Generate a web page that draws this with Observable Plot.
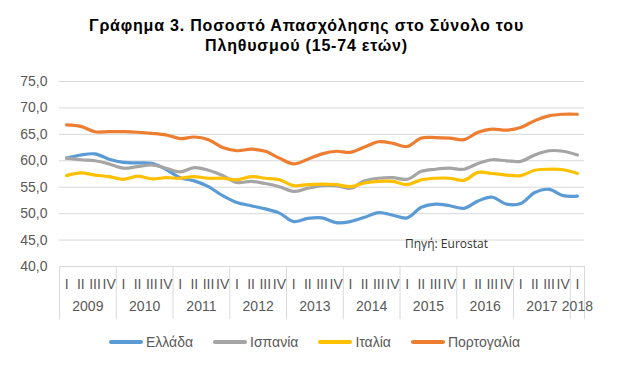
<!DOCTYPE html>
<html>
<head>
<meta charset="utf-8">
<script src="https://cdn.jsdelivr.net/npm/d3@7"></script>
<script src="https://cdn.jsdelivr.net/npm/@observablehq/plot@0.6"></script>
<style>
  html, body { margin: 0; padding: 0; background: #fff; }
  #wrap { position: relative; width: 627px; height: 383px; font-family: "Liberation Sans", Arial, sans-serif; }
  #title { height: 60px; box-sizing: border-box; padding-top: 16px; text-align: center; font-weight: bold; font-size: 16px; line-height: 20px; letter-spacing: 0.8px; color: #000; padding-right: 14px; }
  #legend { display: flex; justify-content: center; align-items: center; gap: 20px; height: 24px; font-size: 14px; color: #595959; padding-left: 2px; }
  .item { display: flex; align-items: center; gap: 3px; }
  .sw { width: 34px; height: 4px; border-radius: 2px; }
  #source { position: absolute; left: 405px; top: 235px; font-size: 12px; color: #333; font-family: "Open Sans", sans-serif; }
</style>
</head>
<body>
<div id="wrap">
  <div id="title">Γράφημα 3. Ποσοστό Απασχόλησης στο Σύνολο του<br>Πληθυσμού (15-74 ετών)</div>
  <div id="chart"></div>
  <div id="legend"></div>
  <div id="source">Πηγή: Eurostat</div>
</div>
<script>
const years = [2009, 2010, 2011, 2012, 2013, 2014, 2015, 2016, 2017, 2018];
const quarters = ["I", "II", "III", "IV"];
const seriesNames = ["Ελλάδα", "Ισπανία", "Ιταλία", "Πορτογαλία"];
const seriesColors = ["#5b9bd5", "#a5a5a5", "#ffc000", "#ed7d31"];
const yTicks = [40, 45, 50, 55, 60, 65, 70, 75];

const greece = [60.5, 61.1, 61.3, 60.3, 59.7, 59.6, 59.5, 58.4, 56.8, 56.2, 55.1, 53.4,
  52.1, 51.5, 50.9, 50.1, 48.5, 49.1, 49.2, 48.3, 48.5, 49.3, 50.2, 49.7,
  49.2, 51.2, 51.8, 51.5, 51.0, 52.4, 53.1, 51.8, 51.9, 54.0, 54.6, 53.4, 53.3];
const spain = [60.5, 60.2, 60.0, 59.4, 58.6, 58.9, 59.2, 58.6, 57.9, 58.7, 58.2, 57.2,
  55.9, 56.1, 55.7, 55.1, 54.2, 54.8, 55.3, 55.3, 54.8, 56.2, 56.7, 56.8,
  56.5, 58.0, 58.4, 58.6, 58.4, 59.5, 60.2, 60.0, 59.9, 61.1, 61.9, 61.8, 61.1];
const italy = [57.2, 57.7, 57.3, 57.0, 56.5, 57.1, 56.6, 56.8, 56.7, 57.0, 56.7, 56.7,
  56.4, 57.0, 56.7, 56.4, 55.3, 55.5, 55.6, 55.5, 55.1, 55.8, 56.1, 56.1,
  55.5, 56.4, 56.7, 56.7, 56.3, 57.8, 57.6, 57.3, 57.2, 58.2, 58.4, 58.3, 57.6];
const portugal = [66.8, 66.5, 65.5, 65.5, 65.5, 65.4, 65.2, 64.9, 64.2, 64.5, 64.0, 62.5,
  61.9, 62.2, 61.8, 60.5, 59.4, 60.3, 61.3, 61.8, 61.6, 62.6, 63.6, 63.3,
  62.7, 64.3, 64.4, 64.3, 64.0, 65.4, 66.0, 65.8, 66.3, 67.6, 68.5, 68.8, 68.8];

const allSeries = [greece, spain, italy, portugal];
const nPoints = greece.length;

const periods = [];
years.forEach(y => quarters.forEach(q => periods.push({year: y, q})));
periods.length = nPoints;
periods.forEach((p, i) => p.i = i);

const rows = [];
allSeries.forEach((vals, s) => vals.forEach((v, i) => rows.push({series: seriesNames[s], i, v})));

const yearLabels = years.map(y => {
  const idx = periods.filter(p => p.year === y).map(p => p.i);
  return {year: String(y), x: (idx[0] + idx[idx.length - 1]) / 2};
});
const separators = years.map(y => periods.find(p => p.year === y).i - 0.5).concat([nPoints - 0.5]);

const chart = Plot.plot({
  width: 627,
  height: 270,
  marginLeft: 59,
  marginRight: 43,
  marginTop: 21,
  marginBottom: 64,
  style: {fontSize: "14px", fontFamily: "'Liberation Sans', Arial, sans-serif", color: "#595959", background: "#fff"},
  x: {domain: [-0.5, nPoints - 0.5], axis: null},
  y: {domain: [40, 75]},
  color: {domain: seriesNames, range: seriesColors},
  marks: [
    Plot.ruleY(yTicks, {stroke: "#d9d9d9", strokeWidth: 1}),
    Plot.ruleX(separators, {stroke: "#d9d9d9", strokeWidth: 1, insetTop: 185, insetBottom: -53}),
    Plot.axisY(yTicks, {tickSize: 0, tickPadding: 12, tickFormat: d => d.toFixed(1).replace(".", ","), label: null, fill: "#595959"}),
    Plot.text(periods, {x: "i", text: "q", frameAnchor: "bottom", dy: 22, fill: "#595959"}),
    Plot.text(yearLabels, {x: "x", text: "year", frameAnchor: "bottom", dy: 44, fill: "#595959"}),
    Plot.line(rows, {x: "i", y: "v", z: "series", stroke: "series", strokeWidth: 3.2, curve: "catmull-rom", strokeLinecap: "round", strokeLinejoin: "round"})
  ]
});
document.getElementById("chart").appendChild(chart);

const legend = document.getElementById("legend");
seriesNames.forEach((name, k) => {
  const item = document.createElement("div");
  item.className = "item";
  const sw = document.createElement("div");
  sw.className = "sw";
  sw.style.background = seriesColors[k];
  const t = document.createElement("span");
  t.textContent = name;
  item.appendChild(sw);
  item.appendChild(t);
  legend.appendChild(item);
});
</script>
</body>
</html>
